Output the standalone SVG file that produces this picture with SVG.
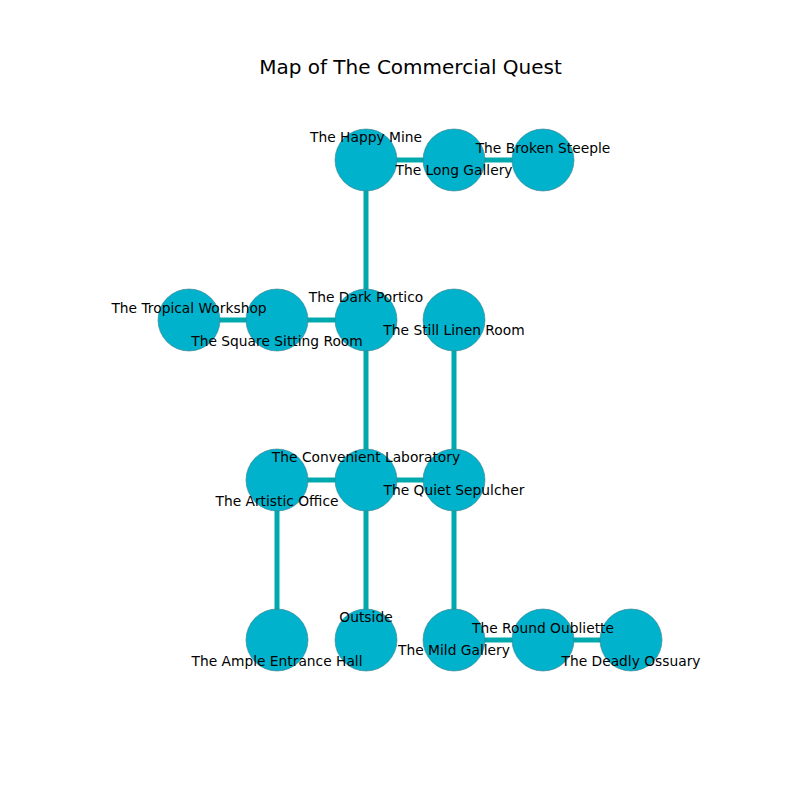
<svg xmlns="http://www.w3.org/2000/svg" width="800" height="800" viewBox="0 0 800 800">
<style>
.e{stroke:#00a9ad;stroke-width:5;fill:none}
.n{fill:#00b2cc;stroke:#3f7f88;stroke-width:0.6}
.l{font-family:"DejaVu Sans",sans-serif;font-size:13.8px;fill:#000;text-anchor:middle}
.t{font-family:"DejaVu Sans",sans-serif;font-size:20px;fill:#000;text-anchor:middle}
</style>
<rect width="800" height="800" fill="#fff"/>
<text class="t" x="410.5" y="74">Map of The Commercial Quest</text>
<g id="edges">
<line class="e" x1="366" y1="160" x2="454" y2="160"/>
<line class="e" x1="454" y1="160" x2="543" y2="160"/>
<line class="e" x1="366" y1="160" x2="366" y2="320"/>
<line class="e" x1="189" y1="320" x2="277" y2="320"/>
<line class="e" x1="277" y1="320" x2="366" y2="320"/>
<line class="e" x1="366" y1="320" x2="366" y2="480"/>
<line class="e" x1="454" y1="320" x2="454" y2="480"/>
<line class="e" x1="277" y1="480" x2="366" y2="480"/>
<line class="e" x1="366" y1="480" x2="454" y2="480"/>
<line class="e" x1="277" y1="480" x2="277" y2="640"/>
<line class="e" x1="366" y1="480" x2="366" y2="640"/>
<line class="e" x1="454" y1="480" x2="454" y2="640"/>
<line class="e" x1="454" y1="640" x2="543" y2="640"/>
<line class="e" x1="543" y1="640" x2="631" y2="640"/>
</g>
<g id="happy-mine"><circle class="n" cx="366" cy="160" r="31"/></g>
<g id="long-gallery"><circle class="n" cx="454" cy="160" r="31"/></g>
<g id="broken-steeple"><circle class="n" cx="543" cy="160" r="31"/></g>
<g id="tropical-workshop"><circle class="n" cx="189" cy="320" r="31"/></g>
<g id="square-sitting-room"><circle class="n" cx="277" cy="320" r="31"/></g>
<g id="dark-portico"><circle class="n" cx="366" cy="320" r="31"/></g>
<g id="still-linen-room"><circle class="n" cx="454" cy="320" r="31"/></g>
<g id="artistic-office"><circle class="n" cx="277" cy="480" r="31"/></g>
<g id="convenient-laboratory"><circle class="n" cx="366" cy="480" r="31"/></g>
<g id="quiet-sepulcher"><circle class="n" cx="454" cy="480" r="31"/></g>
<g id="ample-entrance-hall"><circle class="n" cx="277" cy="640" r="31"/></g>
<g id="outside"><circle class="n" cx="366" cy="640" r="31"/></g>
<g id="mild-gallery"><circle class="n" cx="454" cy="640" r="31"/></g>
<g id="round-oubliette"><circle class="n" cx="543" cy="640" r="31"/></g>
<g id="deadly-ossuary"><circle class="n" cx="631" cy="640" r="31"/></g>
<g id="labels">
<text class="l" x="366" y="142">The Happy Mine</text>
<text class="l" x="454" y="175">The Long Gallery</text>
<text class="l" x="543" y="153">The Broken Steeple</text>
<text class="l" x="189" y="313">The Tropical Workshop</text>
<text class="l" x="277" y="346">The Square Sitting Room</text>
<text class="l" x="366" y="302">The Dark Portico</text>
<text class="l" x="454" y="335">The Still Linen Room</text>
<text class="l" x="366" y="462">The Convenient Laboratory</text>
<text class="l" x="454" y="495">The Quiet Sepulcher</text>
<text class="l" x="277" y="506">The Artistic Office</text>
<text class="l" x="277" y="666">The Ample Entrance Hall</text>
<text class="l" x="366" y="622">Outside</text>
<text class="l" x="454" y="655">The Mild Gallery</text>
<text class="l" x="543" y="633">The Round Oubliette</text>
<text class="l" x="631" y="666">The Deadly Ossuary</text>
</g>
</svg>
